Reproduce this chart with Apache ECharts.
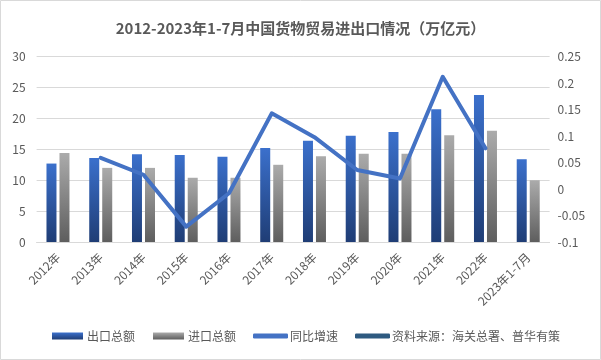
<!DOCTYPE html>
<html><head><meta charset="utf-8">
<script src="https://cdn.jsdelivr.net/npm/echarts@6/dist/echarts.min.js"></script>
<style>html,body{margin:0;padding:0;background:#fff}#c{width:601px;height:360px}</style>
</head><body><div id="c"></div>
<script>
var categories = ['2012年','2013年','2014年','2015年','2016年','2017年','2018年','2019年','2020年','2021年','2022年','2023年1-7月'];
var exportTotal = [12.7, 13.6, 14.2, 14.1, 13.8, 15.2, 16.4, 17.2, 17.8, 21.5, 23.8, 13.4];
var importTotal = [14.4, 12.0, 12.0, 10.4, 10.4, 12.5, 13.9, 14.3, 14.3, 17.3, 18.0, 10.0];
var yoyGrowth = [null, 0.059, 0.027, -0.071, -0.008, 0.143, 0.098, 0.036, 0.020, 0.212, 0.077, null];
var leftTicks = {min: 0, max: 30, interval: 5};
var rightTicks = {min: -0.1, max: 0.25, interval: 0.05};
var legendNames = ['出口总额', '进口总额', '同比增速', '资料来源：海关总署、普华有策'];

var chart = echarts.init(document.getElementById('c'), null, {renderer: 'canvas'});
var txt = '#595959';
var font = '"Noto Sans CJK SC", "Microsoft YaHei", sans-serif';
var legendLeft = [52, 153, 253, 355];
function mkLegend(i) {
  var isBar = i < 2;
  return {
    left: legendLeft[i], top: 330, padding: 0,
    itemWidth: isBar ? 31 : 35, itemHeight: isBar ? 7 : 5,
    icon: isBar ? 'rect' : 'roundRect',
    textStyle: {fontSize: 12, color: txt, fontFamily: font, padding: [0, 0, 0, isBar ? -1 : -3]},
    data: [legendNames[i]]
  };
}
chart.setOption({
  animation: false,
  textStyle: {fontFamily: font},
  graphic: [{type: 'rect', shape: {x: 0.5, y: 0.5, width: 600, height: 359}, style: {fill: 'none', stroke: '#d9d9d9', lineWidth: 1}, silent: true}],
  title: {
    text: '2012-2023年1-7月中国货物贸易进出口情况（万亿元）',
    left: 'center', top: 16,
    textStyle: {fontSize: 15, fontWeight: 'bold', color: txt, fontFamily: font}
  },
  legend: [mkLegend(0), mkLegend(1), mkLegend(2), mkLegend(3)],
  grid: {left: 36.6, right: 51.4, top: 56.7, bottom: 118},
  xAxis: {
    type: 'category', data: categories,
    axisLine: {lineStyle: {color: '#d9d9d9'}},
    axisTick: {show: false},
    axisLabel: {rotate: 45, color: txt, fontSize: 12, interval: 0, margin: 13}
  },
  yAxis: [{
    type: 'value', min: leftTicks.min, max: leftTicks.max, interval: leftTicks.interval,
    axisLine: {show: false}, axisTick: {show: false},
    splitLine: {lineStyle: {color: '#d9d9d9'}},
    axisLabel: {color: txt, fontSize: 12, margin: 11}
  }, {
    type: 'value', min: rightTicks.min, max: rightTicks.max, interval: rightTicks.interval,
    axisLine: {show: false}, axisTick: {show: false}, splitLine: {show: false},
    axisLabel: {color: txt, fontSize: 12, margin: 8, formatter: function(v){ return String(Math.round(v*100)/100); }}
  }],
  series: [{
    name: legendNames[0], type: 'bar', data: exportTotal, barWidth: 10, barGap: '30%',
    itemStyle: {color: new echarts.graphic.LinearGradient(0,0,0,1,[{offset:0,color:'#3b70cc'},{offset:1,color:'#1f3d75'}])}
  }, {
    name: legendNames[1], type: 'bar', data: importTotal, barWidth: 10,
    itemStyle: {color: new echarts.graphic.LinearGradient(0,0,0,1,[{offset:0,color:'#ababab'},{offset:1,color:'#5e5e5e'}])}
  }, {
    name: legendNames[2], type: 'line', yAxisIndex: 1, data: yoyGrowth,
    symbol: 'none', connectNulls: false,
    lineStyle: {color: '#4472c4', width: 4, cap: 'round', join: 'round'},
    itemStyle: {color: '#4472c4'}
  }, {
    name: legendNames[3], type: 'line', yAxisIndex: 1, data: [],
    symbol: 'none',
    lineStyle: {color: '#2e5a80', width: 4, cap: 'round'},
    itemStyle: {color: '#2e5a80'}
  }]
});
</script></body></html>
